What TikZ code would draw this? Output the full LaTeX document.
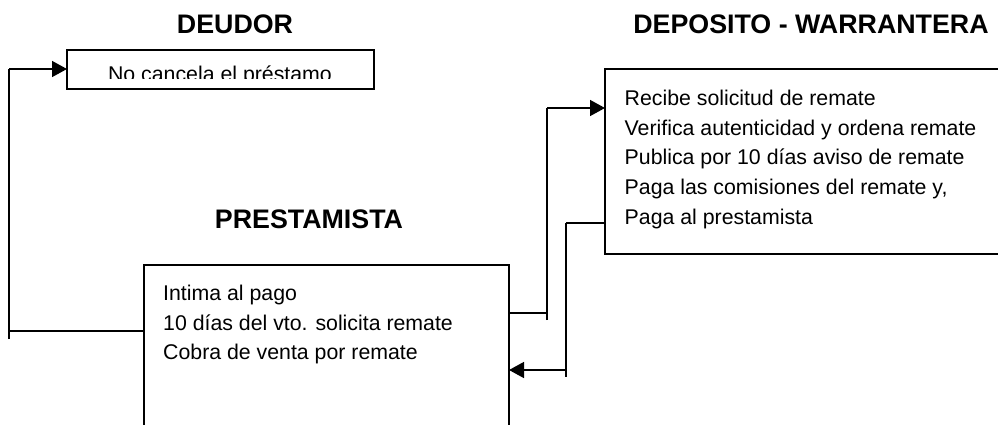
\documentclass[tikz,border=0pt]{standalone}
\usepackage{fontspec}
\setmainfont{Liberation Sans}
\usetikzlibrary{arrows.meta}
\tikzset{
  x=1pt,y=-1pt,
  box/.style={draw=black,line width=1.5pt,fill=white,rectangle,inner sep=0pt,outer sep=0pt,anchor=north west},
  title/.style={font=\bfseries\fontsize{26.8}{30}\selectfont,inner sep=0pt,anchor=base},
  body/.style={font=\fontsize{21.3}{29.9}\selectfont,inner sep=0pt,anchor=north west,align=left},
  wire/.style={draw=black,line width=1.5pt},
  tip/.style={-{Triangle[length=15pt,width=16pt]}}
}
\begin{document}
\begin{tikzpicture}
\useasboundingbox (0,0) rectangle (998,424);
\clip (0,0) rectangle (998,424);
% boxes
\node[box,minimum width=307pt,minimum height=39pt] (deudor) at (67,50) {};
\node[box,minimum width=365pt,minimum height=180pt] (prest) at (144,265) {};
\node[box,minimum width=420pt,minimum height=185pt] (dep) at (605,69) {};
% titles
\node[title] (tdeudor) at (235,33) {DEUDOR};
\node[title] (tdep) at (811,33) {DEPOSITO - WARRANTERA};
\node[title] (tprest) at (309,228) {PRESTAMISTA};
% texts
\begin{scope}
\clip (67,50) rectangle (374,78.5);
\node[font=\fontsize{21.3}{29.9}\selectfont,inner sep=0pt,anchor=base] (tno) at (220,81.3) {No cancela el préstamo};
\end{scope}
\node[body] (tp) at (163,284.5) {Intima al pago\\10 días del vto. solicita remate\\Cobra de venta por remate};
\node[body] (td) at (624.5,89.5) {Recibe solicitud de remate\\Verifica autenticidad y ordena remate\\Publica por 10 días aviso de remate\\Paga las comisiones del remate y,\\Paga al prestamista};
% connector ends
\coordinate (a) at (prest.west |- 0,331);
\coordinate (a1) at (9,331);
\coordinate (a2) at (9,339);
\coordinate (a3) at (9,69);
\coordinate (a4) at (deudor.west |- 0,69);
\coordinate (b) at (prest.east |- 0,313);
\coordinate (b1) at (547,313);
\coordinate (b2) at (547,320);
\coordinate (b3) at (547,108);
\coordinate (b4) at (dep.west |- 0,108);
\coordinate (c) at (dep.west |- 0,223);
\coordinate (c1) at (566,223);
\coordinate (c2) at (566,377);
\coordinate (c3) at (566,370);
\coordinate (c4) at (prest.east |- 0,370);
% connectors
\draw[wire] (a) -- (a1);
\draw[wire] (a2) -- (a3);
\draw[wire,tip] (a3) -- (a4);
\draw[wire] (b) -- (b1);
\draw[wire] (b2) -- (b3);
\draw[wire,tip] (b3) -- (b4);
\draw[wire] (c) -- (c1);
\draw[wire] (c1) -- (c2);
\draw[wire,tip] (c3) -- (c4);
\end{tikzpicture}
\end{document}
